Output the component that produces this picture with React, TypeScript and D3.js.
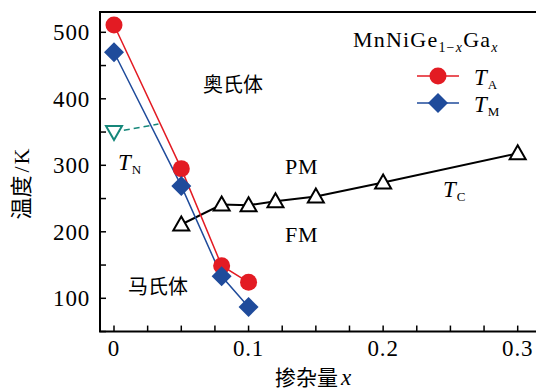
import React from "react";
import * as d3 from "d3";

const xTA = [0, 0.05, 0.08, 0.1];
const yTA = [511, 295, 149, 124];
const xTM = [0, 0.05, 0.08, 0.1];
const yTM = [470, 269, 133, 87];
const xTC = [0.05, 0.08, 0.1, 0.12, 0.15, 0.2, 0.3];
const yTC = [211, 241, 240, 246, 253, 274, 318];
const xTN = [0, 0.033];
const yTN = [350, 362];
const xTickLabels = ["0", "0.1", "0.2", "0.3"];
const yTickLabels = ["100", "200", "300", "400", "500"];

const W = 536, H = 392;
const x = d3.scaleLinear().domain([0, 0.3]).range([114, 517.7]);
const y = d3.scaleLinear().domain([100, 500]).range([298.3, 32.3]);
const X0 = x(-0.0104);
const YB = y(50);
const YT = y(530.5);

const RED = "#e31b23";
const BLUE = "#1f4b9b";
const GREEN = "#16877a";
const SERIF = "'Liberation Serif', 'DejaVu Serif', serif";
const CJK = "'Noto Sans CJK SC', sans-serif";

const line = d3.line<[number, number]>().x(d => x(d[0])).y(d => y(d[1]));
const zip = (a: number[], b: number[]) => a.map((v, i) => [v, b[i]] as [number, number]);

function Diamond({ cx, cy, r, fill }: { cx: number; cy: number; r: number; fill: string }) {
  return <path d={`M${cx},${cy - r}L${cx + r},${cy}L${cx},${cy + r}L${cx - r},${cy}Z`} fill={fill} />;
}
function TriUp({ cx, cy }: { cx: number; cy: number }) {
  const s = 8;
  return <path d={`M${cx},${cy - s}L${cx + s},${cy + s * 0.75}L${cx - s},${cy + s * 0.75}Z`} fill="white" stroke="black" strokeWidth={2} />;
}
function TriDown({ cx, cy }: { cx: number; cy: number }) {
  const s = 8;
  return <path d={`M${cx},${cy + s}L${cx + s},${cy - s * 0.75}L${cx - s},${cy - s * 0.75}Z`} fill="white" stroke={GREEN} strokeWidth={2} />;
}

export default function App() {
  const xTicks = d3.range(0, 0.3 + 1e-9 + 0.05, 0.025).filter(v => x(v) < W);
  const yTicks = d3.range(50, 530, 50);
  return (
    <svg width={W} height={H} style={{ position: "absolute", left: 0, top: 0, background: "white" }}>
      {/* frame */}
      <path d={`M${W},${YT}H${X0}V${YB}H${W}`} fill="none" stroke="black" strokeWidth={2} />
      {xTicks.map((v, i) => (
        <line key={"xt" + i} x1={x(v)} x2={x(v)} y1={YB} y2={YB - 6} stroke="black" strokeWidth={1.5} />
      ))}
      {yTicks.map((v, i) => (
        <line key={"yt" + i} x1={X0} x2={X0 + 6} y1={y(v)} y2={y(v)} stroke="black" strokeWidth={1.5} />
      ))}
      {[0, 0.1, 0.2, 0.3].map((v, i) => (
        <text key={"xl" + i} x={x(v)} y={YB + 24} textAnchor="middle" fontFamily={SERIF} fontSize={23} letterSpacing={0.8}>{xTickLabels[i]}</text>
      ))}
      {[100, 200, 300, 400, 500].map((v, i) => (
        <text key={"yl" + i} x={90} y={y(v) + 8} textAnchor="end" fontFamily={SERIF} fontSize={23} letterSpacing={0.8}>{yTickLabels[i]}</text>
      ))}
      {/* axis titles */}
      <text transform={`translate(29,184) rotate(-90)`} textAnchor="middle" fontSize={22}>
        <tspan fontFamily={CJK}>温度</tspan><tspan fontFamily={SERIF} dx={3}>/</tspan><tspan fontFamily={SERIF} dx={2}>K</tspan>
      </text>
      <text x={275} y={385} fontSize={21}>
        <tspan fontFamily={CJK}>掺杂量</tspan><tspan fontFamily={SERIF} fontStyle="italic" dx={3} fontSize={23}>x</tspan>
      </text>

      {/* T_N dashed */}
      <path d={line(zip(xTN, yTN)) || ""} fill="none" stroke={GREEN} strokeWidth={1.5} strokeDasharray="6,4" />
      <TriDown cx={x(xTN[0])} cy={y(yTN[0])} />

      {/* T_C */}
      <path d={line(zip(xTC, yTC)) || ""} fill="none" stroke="black" strokeWidth={2} />
      {zip(xTC, yTC).map((d, i) => <TriUp key={"tc" + i} cx={x(d[0])} cy={y(d[1])} />)}

      {/* T_A */}
      <path d={line(zip(xTA, yTA)) || ""} fill="none" stroke={RED} strokeWidth={1.5} />
      {/* T_M */}
      <path d={line(zip(xTM, yTM)) || ""} fill="none" stroke={BLUE} strokeWidth={1.5} />
      {zip(xTA, yTA).map((d, i) => <circle key={"ta" + i} cx={x(d[0])} cy={y(d[1])} r={8.5} fill={RED} />)}
      {zip(xTM, yTM).map((d, i) => <Diamond key={"tm" + i} cx={x(d[0])} cy={y(d[1])} r={10} fill={BLUE} />)}

      {/* region labels */}
      <text x={203} y={92} fontFamily={CJK} fontSize={20}>奥氏体</text>
      <text x={128} y={294} fontFamily={CJK} fontSize={20}>马氏体</text>
      <text x={285} y={174} fontFamily={SERIF} fontSize={22} letterSpacing={0.8}>PM</text>
      <text x={285} y={242} fontFamily={SERIF} fontSize={22} letterSpacing={0.8}>FM</text>
      <text x={443} y={197} fontFamily={SERIF} fontSize={23}>
        <tspan fontStyle="italic">T</tspan><tspan fontSize={13} dy={4} dx={1}>C</tspan>
      </text>
      <text x={118} y={170} fontFamily={SERIF} fontSize={23}>
        <tspan fontStyle="italic">T</tspan><tspan fontSize={13} dy={4} dx={1}>N</tspan>
      </text>

      {/* legend */}
      <text x={353} y={47} fontFamily={SERIF} fontSize={22} letterSpacing={1.2}>
        MnNiGe<tspan fontSize={14} dy={5}>1−</tspan><tspan fontSize={14} fontStyle="italic">x</tspan>
        <tspan dy={-5}>Ga</tspan><tspan fontSize={14} dy={5} fontStyle="italic">x</tspan>
      </text>
      <line x1={417} x2={459} y1={76} y2={76} stroke={RED} strokeWidth={1.5} />
      <circle cx={438} cy={76} r={8.5} fill={RED} />
      <text x={474} y={85} fontFamily={SERIF} fontSize={23}>
        <tspan fontStyle="italic">T</tspan><tspan fontSize={13} dy={4} dx={1}>A</tspan>
      </text>
      <line x1={417} x2={459} y1={103} y2={103} stroke={BLUE} strokeWidth={1.5} />
      <Diamond cx={438} cy={103} r={10} fill={BLUE} />
      <text x={474} y={112} fontFamily={SERIF} fontSize={23}>
        <tspan fontStyle="italic">T</tspan><tspan fontSize={13} dy={4} dx={1}>M</tspan>
      </text>
    </svg>
  );
}
